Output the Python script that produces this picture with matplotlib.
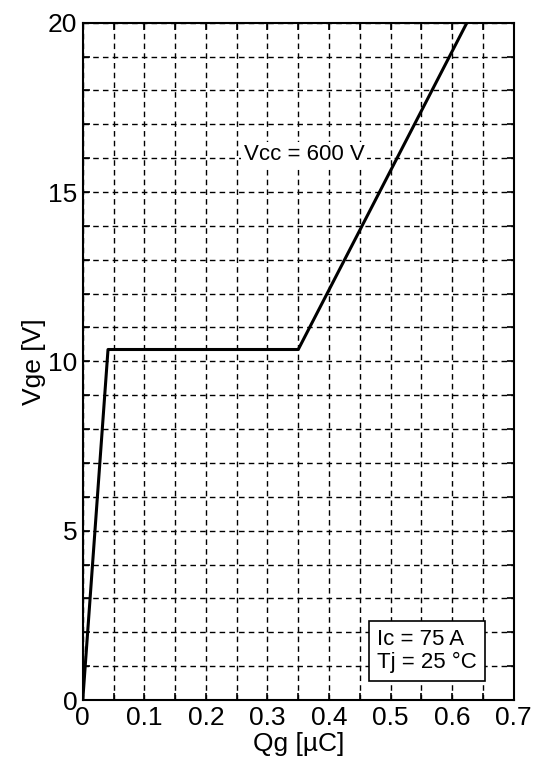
import matplotlib.pyplot as plt
import numpy as np

plt.rcParams['font.family'] = ['Liberation Sans Narrow', 'Liberation Sans', 'DejaVu Sans']

# gate charge curve (Qg in uC, Vge in V)
qg = [0.0, 0.041, 0.35, 0.624]
vge = [0.0, 10.35, 10.35, 20.0]

x_major = [0, 0.1, 0.2, 0.3, 0.4, 0.5, 0.6, 0.7]
x_labels = ['0', '0.1', '0.2', '0.3', '0.4', '0.5', '0.6', '0.7']
y_major = [0, 5, 10, 15, 20]

fig = plt.figure(figsize=(5.34, 7.83), dpi=100)
ax = fig.add_axes([0.155, 0.106, 0.807, 0.865])

ax.plot(qg, vge, color='black', lw=2.2, zorder=3)

ax.set_xlim(0, 0.7)
ax.set_ylim(0, 20)
ax.set_xticks(x_major)
ax.set_xticklabels(x_labels)
ax.set_yticks(y_major)
ax.set_xticks(np.arange(0, 0.701, 0.05), minor=True)
ax.set_yticks(np.arange(0, 20.1, 1), minor=True)

ax.tick_params(which='both', direction='in', top=True, right=True, labelsize=19, width=1.2)
ax.tick_params(which='major', length=5, pad=4)
ax.tick_params(which='minor', length=5)

ax.grid(which='both', color='black', linestyle=(0, (4, 3)), linewidth=1.0)
for s in ax.spines.values():
    s.set_linewidth(1.5)

ax.set_xlabel('Qg [µC]', fontsize=19, labelpad=2)
ax.set_ylabel('Vge [V]', fontsize=19, labelpad=1)

ax.text(0.36, 16.1, 'Vcc = 600 V', fontsize=16, ha='center', va='center',
        bbox=dict(facecolor='white', edgecolor='none', pad=2), zorder=4)
ax.text(0.478, 1.45, 'Ic = 75 A\nTj = 25 °C', fontsize=16, ha='left', va='center',
        linespacing=1.15,
        bbox=dict(facecolor='white', edgecolor='black', linewidth=1.2,
                  boxstyle='square,pad=0.35'), zorder=4)

fig.savefig('out.png', dpi=100)
